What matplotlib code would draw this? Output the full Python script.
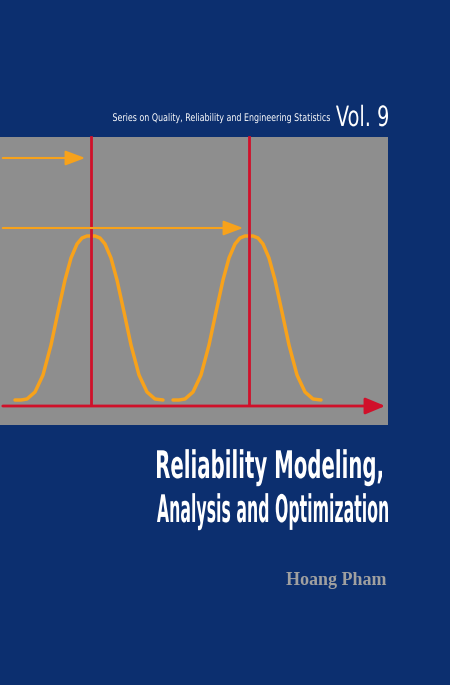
import matplotlib
matplotlib.use("Agg")
import matplotlib.pyplot as plt
from matplotlib.patches import Rectangle, PathPatch
from matplotlib.textpath import TextPath
from matplotlib.font_manager import FontProperties
from matplotlib.transforms import Affine2D

# cover layout values, in pixels of a 450x685 page (y grows downward)
peak_centers = [91, 249]
bell_dx = [-70, -64, -56, -48, -40, -33, -26, -20, -14, -9, -4, 0, 4, 9, 14, 20, 26, 33, 40, 48, 56, 64, 72]
bell_y = [400, 399, 392, 375, 345, 312, 280, 258, 244, 238, 236, 236, 236, 238, 244, 258, 280, 312, 345, 375, 392, 399, 400]
arrow_rows = [158, 228]
arrow_ends = [88, 246]
title_lines = ["Reliability Modeling,", "Analysis and Optimization"]

BLUE = "#0c2f6f"
GRAY = "#8e8e8e"
RED = "#d0102a"
ORANGE = "#f7a21b"

fig = plt.figure(figsize=(4.5, 6.85), dpi=100)
fig.patch.set_facecolor(BLUE)
ax = fig.add_axes([0, 0, 1, 1])
ax.set_xlim(0, 450)
ax.set_ylim(685, 0)
ax.axis("off")


def text_path(s, size_px, weight="normal"):
    return TextPath((0, 0), s, size=size_px, prop=FontProperties(family="DejaVu Sans", weight=weight))


def squeezed_text(s, x_left, x_right, y_base, size_px, weight="normal", color="white"):
    # condensed text: draw glyph outlines squeezed horizontally to fit x_left..x_right
    path = text_path(s, size_px, weight)
    ext = path.get_extents()
    sx = (x_right - x_left) / ext.width
    tr = Affine2D().translate(-ext.x0, 0).scale(sx, -1).translate(x_left, y_base)
    ax.add_patch(PathPatch(tr.transform_path(path), facecolor=color, edgecolor="none"))


ax.add_patch(Rectangle((0, 137), 388, 288, facecolor=GRAY, edgecolor="none"))

for cx in peak_centers:
    xs = [cx + d for d in bell_dx]
    ax.plot([xs[0] - 6] + xs, [bell_y[0]] + bell_y, color=ORANGE, lw=2.5, solid_capstyle="round")
    ax.plot([cx, cx], [137, 405], color=RED, lw=2.0)

ax.annotate("", xy=(388, 406), xytext=(0, 406),
            arrowprops=dict(arrowstyle="-|>,head_length=1.2,head_width=0.5", color=RED, lw=2.0))
for y, xe in zip(arrow_rows, arrow_ends):
    ax.annotate("", xy=(xe, y), xytext=(0, y),
                arrowprops=dict(arrowstyle="-|>,head_length=1.2,head_width=0.45", color=ORANGE, lw=1.5))

squeezed_text("Series on Quality, Reliability and Engineering Statistics", 113, 330, 121, 10.5)
squeezed_text("Vol. 9", 336, 388, 126, 28)
squeezed_text(title_lines[0], 157, 382, 478, 38, "bold")
squeezed_text(title_lines[1], 157, 388, 522, 38, "bold")

ax.text(386, 585, "Hoang Pham", color="#a0a0a0", fontsize=13, family="Liberation Serif",
        weight="bold", ha="right", va="baseline")

fig.savefig("out.png", dpi=100, facecolor=BLUE)
